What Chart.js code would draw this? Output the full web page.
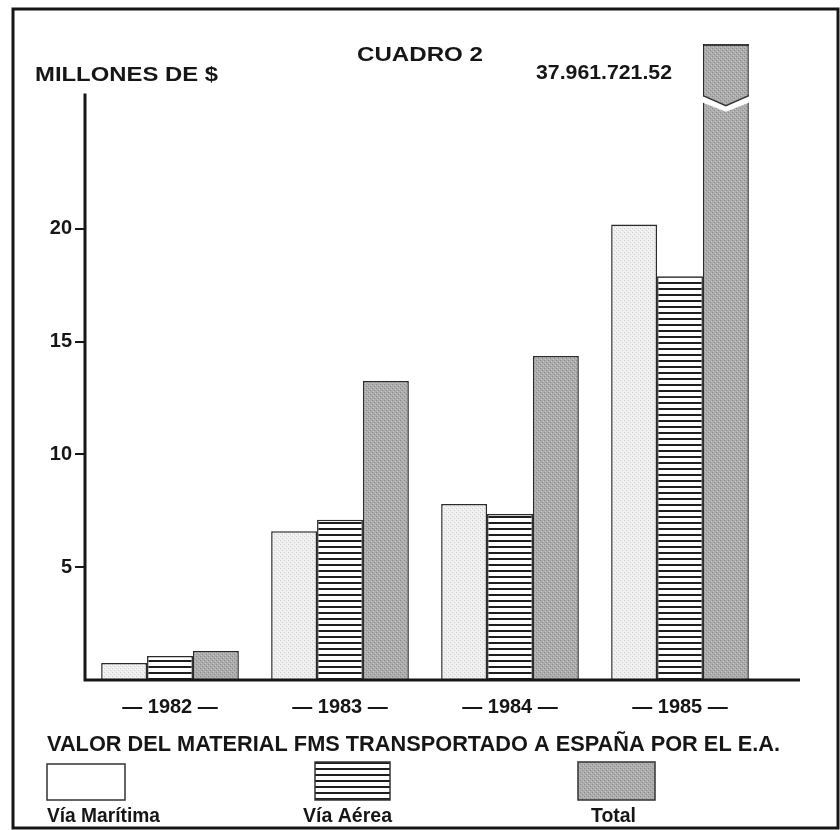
<!DOCTYPE html>
<html>
<head>
<meta charset="utf-8">
<script src="https://cdn.jsdelivr.net/npm/chart.js@4"></script>
<style>
  body { margin: 0; background: #fff; }
  canvas { display: block; }
</style>
</head>
<body>
<canvas id="cuadro" width="840" height="830"></canvas>
<script>
// Cuadro 2 - valor del material FMS (millones de $)
const years = ['1982', '1983', '1984', '1985'];
const maritima = [0.75, 6.6, 7.8, 20.2];
const aerea = [1.06, 7.1, 7.36, 17.9];
const total = [1.29, 13.26, 14.37, 37.96];
const seriesNames = ['Vía Marítima', 'Vía Aérea', 'Total'];
const yTicks = [5, 10, 15, 20];
const breakLabel = '37.961.721.52';

const FONT = '"Liberation Sans", Arial, sans-serif';
const INK = '#161616';

function makePattern(kind) {
    const c = document.createElement('canvas');
    const ctx = c.getContext('2d');
    if (kind === 'lines') {
        c.width = 6; c.height = 6;
        ctx.fillStyle = '#fff';
        ctx.fillRect(0, 0, 6, 6);
        ctx.fillStyle = '#1e1e1e';
        ctx.fillRect(0, 0, 6, 2);
    } else {
        const light = kind === 'light';
        c.width = 4; c.height = 4;
        ctx.fillStyle = light ? '#eeeeee' : '#adadad';
        ctx.fillRect(0, 0, 4, 4);
        ctx.fillStyle = light ? '#cfcfcf' : '#8a8a8a';
        ctx.fillRect(0, 0, 1, 1);
        ctx.fillRect(2, 2, 1, 1);
        ctx.fillStyle = light ? '#fbfbfb' : '#c2c2c2';
        ctx.fillRect(1, 3, 1, 1);
        ctx.fillRect(3, 1, 1, 1);
    }
    return ctx.createPattern(c, 'repeat');
}

const fills = [makePattern('light'), makePattern('lines'), makePattern('dark')];
const legendFills = ['#ffffff', fills[1], fills[2]];

const yAxisTop = 26;

// text squeezed/stretched to the width it has in the print
function fitText(ctx, text, x, y, w, align) {
    const m = ctx.measureText(text).width;
    ctx.save();
    ctx.translate(x, y);
    ctx.scale(w / m, 1);
    ctx.textAlign = align;
    ctx.fillText(text, 0, 0);
    ctx.restore();
}

const decorPlugin = {
    id: 'decor',
    afterDraw(chart) {
        const ctx = chart.ctx;
        const area = chart.chartArea;
        const y = chart.scales.y;
        ctx.save();

        // outer frame
        ctx.strokeStyle = INK;
        ctx.lineWidth = 3;
        ctx.strokeRect(13, 9, 825, 819);

        // axes
        ctx.beginPath();
        ctx.moveTo(area.left, y.getPixelForValue(yAxisTop));
        ctx.lineTo(area.left, area.bottom);
        ctx.lineTo(area.right + 35, area.bottom);
        ctx.stroke();

        // broken Total bar for 1985
        const bar = chart.getDatasetMeta(2).data[3];
        const half = bar.width / 2;
        const yb = y.getPixelForValue(yAxisTop) + 5;
        ctx.lineWidth = 1.5;
        ctx.beginPath();
        ctx.moveTo(bar.x - half, area.top + 1);
        ctx.lineTo(bar.x + half, area.top + 1);
        ctx.stroke();
        ctx.strokeStyle = '#fff';
        ctx.lineWidth = 6;
        ctx.beginPath();
        ctx.moveTo(bar.x - half - 2, yb);
        ctx.lineTo(bar.x, yb + 10);
        ctx.lineTo(bar.x + half + 2, yb);
        ctx.stroke();
        ctx.strokeStyle = '#333';
        ctx.lineWidth = 1.5;
        ctx.beginPath();
        ctx.moveTo(bar.x - half, yb - 3);
        ctx.lineTo(bar.x, yb + 7);
        ctx.lineTo(bar.x + half, yb - 3);
        ctx.stroke();

        // texts
        ctx.fillStyle = INK;
        ctx.textBaseline = 'middle';
        ctx.font = 'bold 20px ' + FONT;
        fitText(ctx, 'CUADRO 2', 420, 55, 126, 'center');
        fitText(ctx, 'MILLONES DE $', 35, 75, 183, 'left');
        fitText(ctx, breakLabel, 672, 73, 136, 'right');
        ctx.font = 'bold 22px ' + FONT;
        fitText(ctx, 'VALOR DEL MATERIAL FMS TRANSPORTADO A ESPAÑA POR EL E.A.', 47, 745, 733, 'left');

        // legend
        const boxes = [[47, 764, 78, 36], [315, 762, 75, 38], [578, 762, 77, 38]];
        const labelX = [47, 303, 591];
        const labelW = [113, 89, 45];
        ctx.font = 'bold 20px ' + FONT;
        seriesNames.forEach((name, i) => {
            const b = boxes[i];
            ctx.fillStyle = legendFills[i];
            ctx.fillRect(b[0], b[1], b[2], b[3]);
            ctx.strokeStyle = '#333';
            ctx.lineWidth = 1.5;
            ctx.strokeRect(b[0], b[1], b[2], b[3]);
            ctx.fillStyle = INK;
            fitText(ctx, name, labelX[i], 816, labelW[i], 'left');
        });
        ctx.restore();
    }
};

new Chart(document.getElementById('cuadro').getContext('2d'), {
    type: 'bar',
    data: {
        labels: years,
        datasets: [
            { label: seriesNames[0], data: maritima, backgroundColor: fills[0] },
            { label: seriesNames[1], data: aerea, backgroundColor: fills[1] },
            { label: seriesNames[2], data: total, backgroundColor: fills[2] }
        ]
    },
    options: {
        responsive: false,
        animation: false,
        devicePixelRatio: 1,
        layout: { padding: { left: 0, top: 44, right: 75, bottom: 0 } },
        datasets: {
            bar: {
                barPercentage: 1,
                categoryPercentage: 0.81,
                borderColor: '#2a2a2a',
                borderWidth: 1.5
            }
        },
        plugins: {
            legend: { display: false },
            tooltip: { enabled: false }
        },
        scales: {
            x: {
                grid: { display: false },
                border: { display: false },
                ticks: {
                    color: INK,
                    font: { family: FONT, size: 20, weight: 'bold' },
                    padding: 7,
                    maxRotation: 0,
                    callback: function(value, index) {
                        return '— ' + years[index] + ' —';
                    }
                },
                afterFit: function(scale) { scale.height = 150; }
            },
            y: {
                min: 0,
                max: 28.2,
                afterBuildTicks: function(scale) {
                    scale.ticks = yTicks.map(v => ({ value: v }));
                },
                afterFit: function(scale) { scale.width = 85; },
                grid: { drawOnChartArea: false, tickLength: 10, color: INK, lineWidth: 2 },
                border: { display: false },
                ticks: {
                    color: INK,
                    padding: 3,
                    font: { family: FONT, size: 20, weight: 'bold' }
                }
            }
        }
    },
    plugins: [decorPlugin]
});
</script>
</body>
</html>
